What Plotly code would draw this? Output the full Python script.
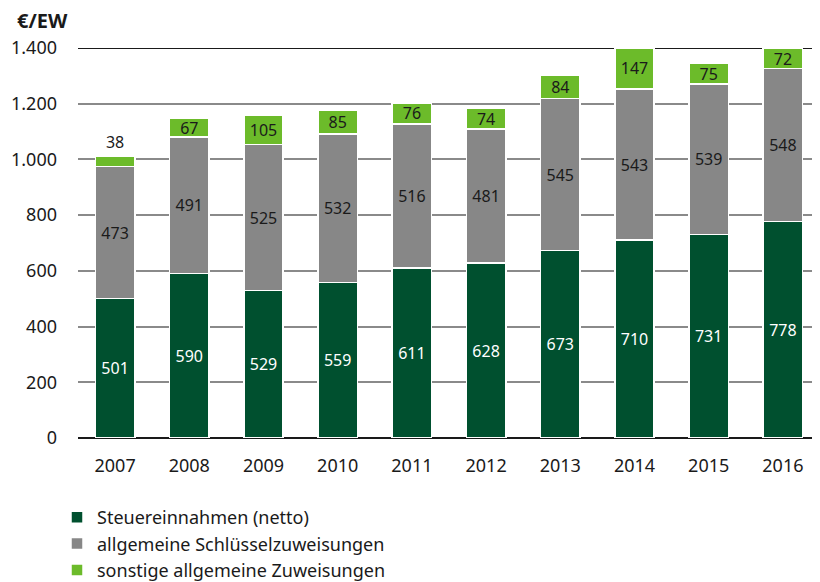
import plotly.graph_objects as go

jahre = ["2007", "2008", "2009", "2010", "2011", "2012", "2013", "2014", "2015", "2016"]
steuern = [501, 590, 529, 559, 611, 628, 673, 710, 731, 778]
schluessel = [473, 491, 525, 532, 516, 481, 545, 543, 539, 548]
sonstige = [38, 67, 105, 85, 76, 74, 84, 147, 75, 72]

dunkelgruen = "#00502f"
grau = "#878787"
hellgruen = "#6cbb2a"
schrift = "Noto Sans"

# Seite hat 8px Rand -> Figur etwas kleiner als das Fenster
W, H = 812, 574
L, T, B = 70, 40, 144
pw, ph = W - L, H - T - B

fig = go.Figure()
fig.add_trace(go.Bar(
    x=jahre, y=steuern, name="Steuereinnahmen (netto)",
    marker=dict(color=dunkelgruen, line=dict(color="white", width=1.5)),
    text=steuern, textposition="inside", insidetextanchor="middle", textangle=0,
    textfont=dict(color="white", size=16, family=schrift),
))
fig.add_trace(go.Bar(
    x=jahre, y=schluessel, name="allgemeine Schlüsselzuweisungen",
    marker=dict(color=grau, line=dict(color="white", width=1.5)),
    text=schluessel, textposition="inside", insidetextanchor="middle", textangle=0,
    textfont=dict(color="#1a1a1a", size=16, family=schrift),
))
# kleiner Wert 2007 passt nicht in den Balken -> außen
pos = ["outside" if v < 50 else "inside" for v in sonstige]
fig.add_trace(go.Bar(
    x=jahre, y=sonstige, name="sonstige allgemeine Zuweisungen",
    marker=dict(color=hellgruen, line=dict(color="white", width=1.5)),
    text=sonstige, textposition=pos, insidetextanchor="middle", textangle=0,
    textfont=dict(color="#1a1a1a", size=16, family=schrift),
    constraintext="none", cliponaxis=False,
))

fig.update_layout(
    width=W, height=H,
    barmode="stack", bargap=0.47,
    separators=",.",
    plot_bgcolor="white", paper_bgcolor="white",
    font=dict(family=schrift, size=17, color="#1a1a1a"),
    margin=dict(l=L, r=0, t=T, b=B, autoexpand=False),
    showlegend=True,
    legend=dict(
        x=49 / W, y=1 - 491 / H, xanchor="left", yanchor="top",
        xref="container", yref="container",
        traceorder="normal", font=dict(size=18, family=schrift),
        itemwidth=30, tracegroupgap=0, bgcolor="rgba(0,0,0,0)",
    ),
    yaxis=dict(
        range=[0, 1400], dtick=200, tickformat=",d",
        showgrid=True, gridcolor="#8a8a8a", gridwidth=2,
        zeroline=True, zerolinecolor="#1a1a1a", zerolinewidth=2,
        ticks="", ticklabelstandoff=20, automargin=False,
        tickfont=dict(size=18),
    ),
    xaxis=dict(showgrid=False, ticks="", ticklabelstandoff=15, automargin=False,
               tickfont=dict(size=18)),
    annotations=[dict(
        text="<b>€/EW</b>", xref="paper", yref="paper",
        x=(7 - L) / pw, y=(T + ph - 12) / ph,
        xanchor="left", yanchor="middle", showarrow=False,
        font=dict(size=20, family=schrift),
    )],
    shapes=[dict(
        type="line", xref="paper", yref="y", x0=0, x1=1, y0=1400, y1=1400,
        line=dict(color="#1a1a1a", width=2), layer="between",
    )],
)

fig.write_html("out.html")
